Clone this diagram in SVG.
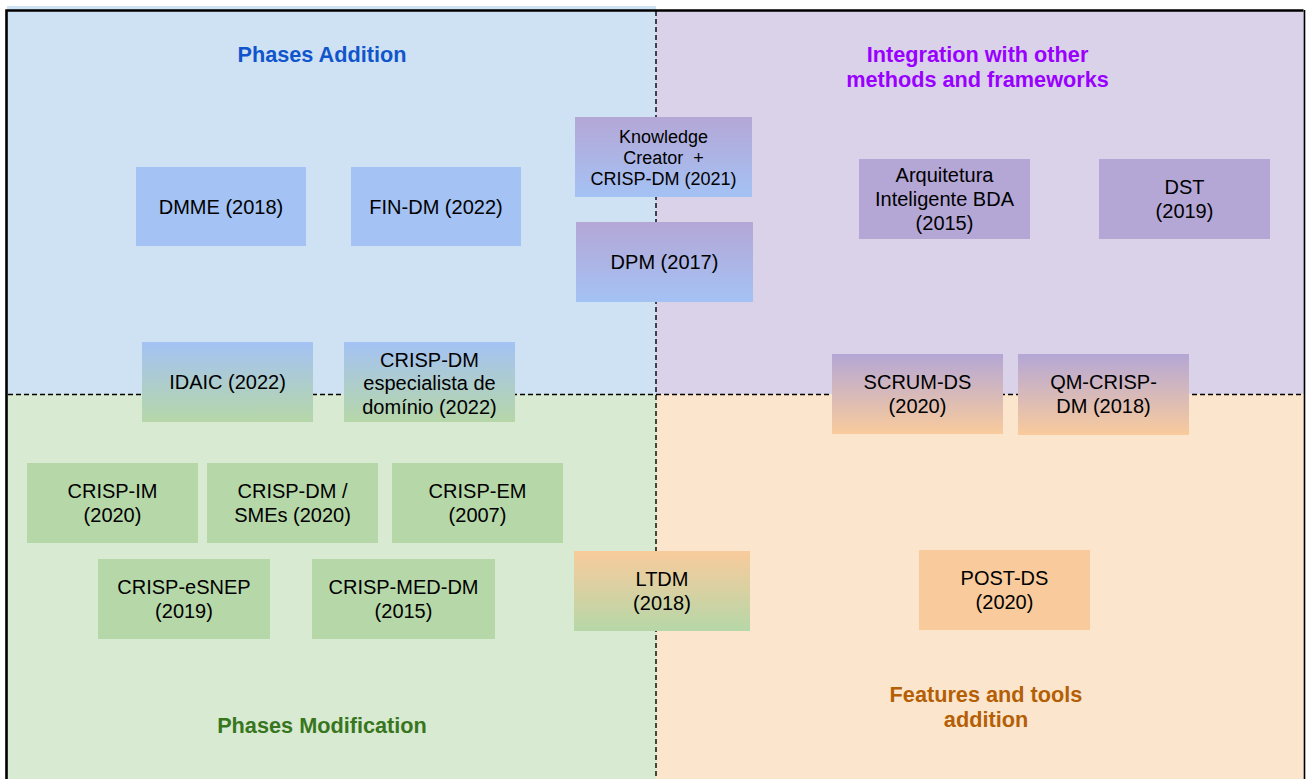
<svg xmlns="http://www.w3.org/2000/svg" width="1306" height="779" viewBox="0 0 1306 779">
<defs>
<linearGradient id="gPB" x1="0" y1="0" x2="0" y2="1"><stop offset="0" stop-color="#b4a7d6"/><stop offset="1" stop-color="#a4c2f4"/></linearGradient>
<linearGradient id="gBG" x1="0" y1="0" x2="0" y2="1"><stop offset="0" stop-color="#a4c2f4"/><stop offset="1" stop-color="#b6d7a8"/></linearGradient>
<linearGradient id="gPO" x1="0" y1="0" x2="0" y2="1"><stop offset="0" stop-color="#b4a7d6"/><stop offset="1" stop-color="#f9cb9c"/></linearGradient>
<linearGradient id="gOG" x1="0" y1="0" x2="0" y2="1"><stop offset="0" stop-color="#f9cb9c"/><stop offset="1" stop-color="#b6d7a8"/></linearGradient>
</defs>
<style>
.n{font-family:"Liberation Sans",Arial,sans-serif;font-size:20px;fill:#000;text-anchor:middle}
.s{font-size:18px}
.t{font-family:"Liberation Sans",Arial,sans-serif;font-size:21.7px;font-weight:bold;text-anchor:middle}
.blue{fill:#a4c2f4}.purple{fill:#b4a7d6}.green{fill:#b6d7a8}.orange{fill:#f9cb9c}
.div{stroke:#000;stroke-width:1.4;stroke-dasharray:5 3;fill:none}
</style>
<rect x="0" y="0" width="1306" height="779" fill="#ffffff"/>
<g id="quadrants">
<rect x="7" y="6" width="649" height="388" fill="#cfe2f3"/>
<rect x="656" y="10" width="648" height="384" fill="#d9d2e9"/>
<rect x="7" y="394" width="649" height="385" fill="#d9ead3"/>
<rect x="656" y="394" width="648" height="385" fill="#fce5cd"/>
</g>
<g id="frame">
<path d="M6.5 781 V10.5 H1303.5" fill="none" stroke="#000" stroke-width="2.6"/>
<path d="M1304.5 10 V781" fill="none" stroke="#000" stroke-width="1.6"/>
</g>
<g id="dividers">
<line class="div" x1="656" y1="11" x2="656" y2="779"/>
<line class="div" x1="8" y1="394.5" x2="1303" y2="394.5"/>
</g>
<g id="titles">
<text class="t" x="322" y="62" fill="#1155cc">Phases Addition</text>
<text class="t" x="977.5" y="62" fill="#9900ff"><tspan x="977.5">Integration with other</tspan><tspan x="977.5" y="87">methods and frameworks</tspan></text>
<text class="t" x="322" y="733" fill="#38761d">Phases Modification</text>
<text class="t" x="986" y="702" fill="#b45f06"><tspan x="986">Features and tools</tspan><tspan x="986" y="727">addition</tspan></text>
</g>
<g id="dmme"><rect class="blue" x="136" y="167" width="170" height="79"/><text class="n" x="221" y="213.5">DMME (2018)</text></g>
<g id="fin-dm"><rect class="blue" x="351" y="167" width="170" height="79"/><text class="n" x="436" y="213.5">FIN-DM (2022)</text></g>
<g id="knowledge-creator"><rect fill="url(#gPB)" x="575" y="117" width="177" height="80"/><text class="n s" x="663.5" y="142.5" xml:space="preserve"><tspan x="663.5">Knowledge</tspan><tspan x="663.5" y="163.5">Creator  +</tspan><tspan x="663.5" y="184.5">CRISP-DM (2021)</tspan></text></g>
<g id="dpm"><rect fill="url(#gPB)" x="576" y="222" width="177" height="80"/><text class="n" x="664.5" y="269">DPM (2017)</text></g>
<g id="arquitetura"><rect class="purple" x="859" y="159" width="171" height="80"/><text class="n" x="944.5" y="182"><tspan x="944.5">Arquitetura</tspan><tspan x="944.5" y="206">Inteligente BDA</tspan><tspan x="944.5" y="230">(2015)</tspan></text></g>
<g id="dst"><rect class="purple" x="1099" y="159" width="171" height="80"/><text class="n" x="1184.5" y="194"><tspan x="1184.5">DST</tspan><tspan x="1184.5" y="218">(2019)</tspan></text></g>
<g id="idaic"><rect fill="url(#gBG)" x="142" y="342" width="171" height="80"/><text class="n" x="227.5" y="389">IDAIC (2022)</text></g>
<g id="crisp-dm-especialista"><rect fill="url(#gBG)" x="344" y="342" width="171" height="80"/><text class="n" x="429.5" y="366.5"><tspan x="429.5">CRISP-DM</tspan><tspan x="429.5" y="390">especialista de</tspan><tspan x="429.5" y="413.5">domínio (2022)</tspan></text></g>
<g id="scrum-ds"><rect fill="url(#gPO)" x="832" y="354" width="171" height="80"/><text class="n" x="917.5" y="389"><tspan x="917.5">SCRUM-DS</tspan><tspan x="917.5" y="413">(2020)</tspan></text></g>
<g id="qm-crisp-dm"><rect fill="url(#gPO)" x="1018" y="354" width="171" height="81"/><text class="n" x="1103.5" y="389"><tspan x="1103.5">QM-CRISP-</tspan><tspan x="1103.5" y="413">DM (2018)</tspan></text></g>
<g id="crisp-im"><rect class="green" x="27" y="463" width="171" height="80"/><text class="n" x="112.5" y="498"><tspan x="112.5">CRISP-IM</tspan><tspan x="112.5" y="522">(2020)</tspan></text></g>
<g id="crisp-dm-smes"><rect class="green" x="207" y="463" width="171" height="80"/><text class="n" x="292.5" y="498"><tspan x="292.5">CRISP-DM /</tspan><tspan x="292.5" y="522">SMEs (2020)</tspan></text></g>
<g id="crisp-em"><rect class="green" x="392" y="463" width="171" height="80"/><text class="n" x="477.5" y="498"><tspan x="477.5">CRISP-EM</tspan><tspan x="477.5" y="522">(2007)</tspan></text></g>
<g id="crisp-esnep"><rect class="green" x="98" y="559" width="172" height="80"/><text class="n" x="184" y="594"><tspan x="184">CRISP-eSNEP</tspan><tspan x="184" y="618">(2019)</tspan></text></g>
<g id="crisp-med-dm"><rect class="green" x="312" y="559" width="183" height="80"/><text class="n" x="403.5" y="594"><tspan x="403.5">CRISP-MED-DM</tspan><tspan x="403.5" y="618">(2015)</tspan></text></g>
<g id="ltdm"><rect fill="url(#gOG)" x="574" y="551" width="176" height="80"/><text class="n" x="662" y="586"><tspan x="662">LTDM</tspan><tspan x="662" y="610">(2018)</tspan></text></g>
<g id="post-ds"><rect class="orange" x="919" y="550" width="171" height="80"/><text class="n" x="1004.5" y="585"><tspan x="1004.5">POST-DS</tspan><tspan x="1004.5" y="609">(2020)</tspan></text></g>
</svg>
